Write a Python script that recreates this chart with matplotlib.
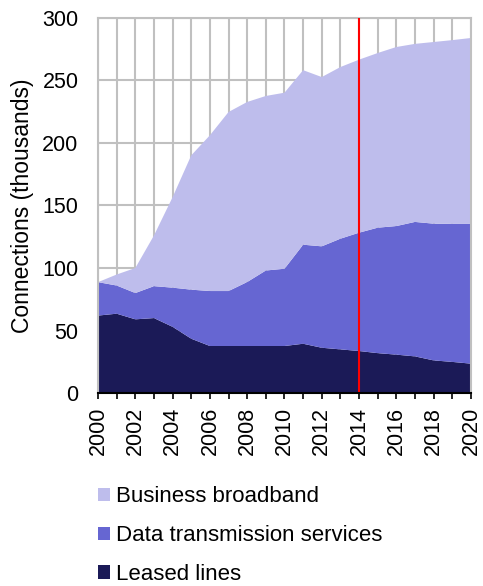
import matplotlib.pyplot as plt
from matplotlib.patches import Patch
from matplotlib.ticker import MultipleLocator

plt.rcParams['font.family'] = ['Liberation Sans', 'DejaVu Sans']

years = list(range(2000, 2021))
leased_lines = [62, 63.5, 59, 60, 53, 43.5, 37.7, 37.7, 37.7, 37.7, 37.7,
                39.5, 36.3, 35, 33.7, 32, 30.8, 29.4, 26.2, 25, 23.6]
data_transmission = [26.7, 22.5, 21, 25.5, 31.3, 39.2, 43.9, 43.9, 51.1, 60.3, 61.7,
                     79.1, 81, 88.4, 94.5, 100.2, 102.7, 107.4, 109.2, 110.2, 111.6]
business_broadband = [0, 8.8, 20, 40.5, 72.3, 107.3, 124.4, 143, 143.8, 139.4, 140.6,
                      139.4, 135.2, 137.1, 138.2, 139.5, 143, 142.2, 145.1, 146.8, 148.5]
labels = ['Leased lines', 'Data transmission services', 'Business broadband']
colors = ['#1b1a57', '#6666d2', '#bebdec']
marker_year = 2014

fig = plt.figure(figsize=(4.83, 5.86), dpi=100)
ax = fig.add_axes([0.203, 0.329, 0.772, 0.641])

ax.stackplot(years, leased_lines, data_transmission, business_broadband,
             colors=colors, linewidth=0, zorder=2)
ax.axvline(marker_year, color='#ff0000', lw=1.5, zorder=3)

ax.set_xlim(2000, 2020)
ax.set_ylim(0, 300)
ax.xaxis.set_major_locator(MultipleLocator(2))
ax.xaxis.set_minor_locator(MultipleLocator(1))
ax.yaxis.set_major_locator(MultipleLocator(50))
ax.grid(True, which='both', axis='x', color='#c0c0c0', lw=1.5, zorder=0)
ax.grid(True, which='major', axis='y', color='#c0c0c0', lw=1.5, zorder=0)
ax.set_axisbelow(True)

for side in ['top', 'right', 'left']:
    ax.spines[side].set_color('#c0c0c0')
    ax.spines[side].set_linewidth(1.5)
ax.spines['bottom'].set_color('black')
ax.spines['bottom'].set_linewidth(1.5)
ax.spines['bottom'].set_zorder(4)

ax.tick_params(axis='x', which='both', direction='inout', length=8, width=1.2,
               color='black', labelsize=15.5, rotation=90, pad=6)
ax.tick_params(axis='y', length=0, labelsize=15.5, pad=14)
ax.set_ylabel('Connections (thousands)', fontsize=16.5, labelpad=6)

handles = [Patch(facecolor=colors[i], edgecolor='none', label=labels[i]) for i in [2, 1, 0]]
fig.legend(handles=handles, loc='upper left', bbox_to_anchor=(0.203, 0.170),
           frameon=False, fontsize=16, handlelength=0.54, handleheight=0.54,
           handletextpad=0.27, labelspacing=0.8, borderpad=0, borderaxespad=0)

fig.savefig('out.png', dpi=100)
